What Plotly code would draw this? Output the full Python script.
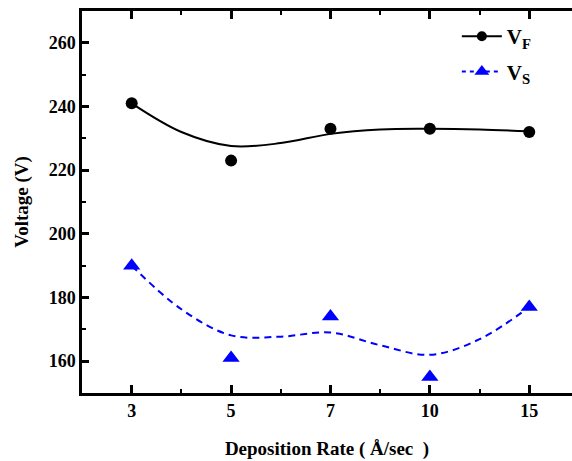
import plotly.graph_objects as go

# Data
rates = ["3", "5", "7", "10", "15"]
vf = [241, 223, 233, 233, 232]
vs = [190, 161, 174, 155, 177]

fit_pos = [0, 0.5, 1, 1.5, 2, 2.5, 3, 3.5, 4]
vf_fit = [241, 232.0, 227.6, 228.5, 231.4, 232.8, 233.0, 232.8, 232.2]
vs_fit = [190, 176.3, 168.1, 167.7, 169.0, 165.0, 162.0, 166.9, 177]

yticks = [160, 180, 200, 220, 240, 260]

idx = list(range(len(rates)))
FONT = "Liberation Serif, Times New Roman, serif"

fig = go.Figure()

# fitted curves
fig.add_trace(go.Scatter(x=fit_pos, y=vf_fit, mode="lines", line=dict(color="black", width=2, shape="spline", smoothing=1.0),
                         showlegend=False, hoverinfo="skip"))
fig.add_trace(go.Scatter(x=fit_pos, y=vs_fit, mode="lines",
                         line=dict(color="#0000FF", width=2, dash="7px,5px", shape="spline", smoothing=1.0),
                         showlegend=False, hoverinfo="skip"))
# data points
fig.add_trace(go.Scatter(x=idx, y=vf, mode="markers", marker=dict(symbol="circle", size=12, color="black"),
                         showlegend=False))
fig.add_trace(go.Scatter(x=idx, y=vs, mode="markers", marker=dict(symbol="triangle-up", size=15, color="#0000FF"),
                         showlegend=False))
# legend entries
fig.add_trace(go.Scatter(x=[None], y=[None], mode="lines+markers", name="V<sub>F</sub>", legend="legend",
                         line=dict(color="black", width=2), marker=dict(symbol="circle", size=10, color="black")))
fig.add_trace(go.Scatter(x=[None], y=[None], mode="lines+markers", name="V<sub>S</sub>", legend="legend2",
                         line=dict(color="#0000FF", width=2, dash="4px,4px"),
                         marker=dict(symbol="triangle-up", size=13, color="#0000FF")))

legend_common = dict(x=0.765, xanchor="left", yanchor="middle", bgcolor="rgba(0,0,0,0)",
                     font=dict(family=FONT, size=21, color="black", weight="bold"), itemwidth=40)

fig.update_layout(
    width=572, height=461,
    margin=dict(l=82, r=0, t=11, b=68),
    paper_bgcolor="white", plot_bgcolor="white",
    font=dict(family=FONT, size=18, color="black", weight="bold"),
    legend=dict(y=0.933, **legend_common),
    legend2=dict(y=0.841, **legend_common),
)

fig.update_xaxes(
    range=[-0.5, 4.43], tickmode="array", tickvals=idx, ticktext=rates,
    showline=True, linecolor="black", linewidth=2.5, mirror="allticks",
    ticks="inside", ticklen=8, tickwidth=2.5, tickcolor="black",
    showgrid=False, zeroline=False,
    minor=dict(tickvals=[0.5, 1.5, 2.5, 3.5], ticks="inside", ticklen=4, tickwidth=2, tickcolor="black", showgrid=False),
    tickfont=dict(family=FONT, size=18, weight="bold"),
    title=dict(text="Deposition Rate (\u00a0Å/sec\u00a0\u00a0)", font=dict(family=FONT, size=19, weight="bold"), standoff=22),
)
fig.update_yaxes(
    range=[150, 270], tickmode="array", tickvals=yticks,
    showline=True, linecolor="black", linewidth=2.5, mirror=False,
    ticks="inside", ticklen=7, tickwidth=2.5, tickcolor="black",
    showgrid=False, zeroline=False,
    minor=dict(dtick=10, ticks="inside", ticklen=4, tickwidth=2, tickcolor="black", showgrid=False),
    tickfont=dict(family=FONT, size=18, weight="bold"),
    title=dict(text="Voltage (V)", font=dict(family=FONT, size=19, weight="bold"), standoff=16),
)

fig.write_html("out.html", config={"displayModeBar": False},
               post_script="document.body.style.margin='0';document.body.style.overflow='hidden';")
